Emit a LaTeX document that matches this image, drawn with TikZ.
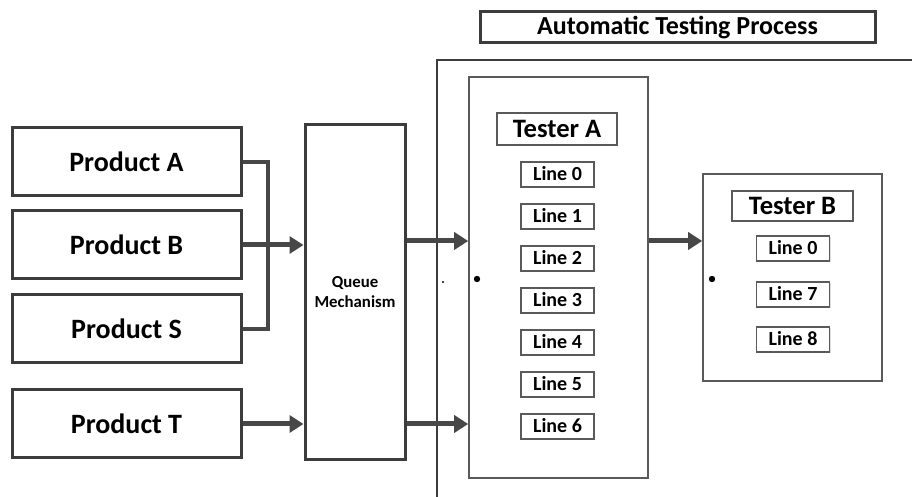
\documentclass[tikz,border=0pt]{standalone}
\usepackage{fontspec}
\setmainfont{Carlito}
\usetikzlibrary{positioning,arrows.meta,shadows}
\definecolor{edgegray}{HTML}{3C3C3C}
\definecolor{thingray}{HTML}{5A5A5A}
\definecolor{arrowgray}{HTML}{474747}

\begin{document}
\begin{tikzpicture}[x=0.5pt,y=-0.5pt]
  \tikzstyle{every node}=[align=center, rectangle, inner sep=0pt]
  \tikzstyle{prod}=[draw=edgegray, line width=1.5pt, minimum width=114.5pt, minimum height=34pt,
    drop shadow={shadow xshift=0.7pt, shadow yshift=-0.7pt, fill=black!30},
    fill=white, font=\bfseries\fontsize{14}{16}\selectfont]
  \tikzstyle{linebox}=[draw=thingray, line width=0.8pt, minimum width=36.5pt, minimum height=12.5pt,
    text height=8.4pt, text depth=2pt,
    drop shadow={shadow xshift=0.5pt, shadow yshift=-0.5pt, fill=black!25},
    fill=white, font=\bfseries\fontsize{10}{12}\selectfont]
  \tikzstyle{tester}=[draw=thingray, line width=0.8pt, fill=white]
  \tikzstyle{arr}=[draw=arrowgray, line width=2.5pt, -{Triangle[length=7pt,width=8.5pt]}]
  \useasboundingbox (0,0) rectangle (912,497);
  % \draw [step=50, blue, thin] (0,0) grid (912,497);

  % products and queue
  \node [prod] (pa) at (126.5,162) {Product A};
  \node [prod] (pb) at (126.5,245) {Product B};
  \node [prod] (ps) at (126.5,329) {Product S};
  \node [prod] (pt) at (126.5,424) {Product T};
  \node [draw=edgegray, line width=1.5pt, minimum width=50pt, minimum height=167.5pt, fill=white,
    drop shadow={shadow xshift=0.7pt, shadow yshift=-0.7pt, fill=black!30},
    font=\bfseries\fontsize{8.4}{10}\selectfont] (qm) at (355,292.5) {Queue\\Mechanism};

  % testing area
  \draw [edgegray, line width=1.3pt] (437,497) -- (437,60) -- (912,60);
  \node [draw=edgegray, line width=1.5pt, minimum width=197.5pt, minimum height=15.5pt, fill=white,
    drop shadow={shadow xshift=0.7pt, shadow yshift=-0.7pt, fill=black!30},
    font=\bfseries\fontsize{13}{15}\selectfont] (atp) at (677.5,27.5) {Automatic Testing Process};

  \node [tester, minimum width=89.5pt, minimum height=200.5pt] (ta) at (558.5,277.5) {};
  \node [linebox, minimum width=60pt, minimum height=16pt, text height=10.8pt, text depth=2.2pt,
    font=\bfseries\fontsize{13.3}{15}\selectfont] (tal) at (557,129) {Tester A};
  \node [linebox] (a0) at (557.5,174.5) {Line 0};
  \node [linebox, below = 7.7pt of a0] (a1) {Line 1};
  \node [linebox, below = 7.7pt of a1] (a2) {Line 2};
  \node [linebox, below = 7.7pt of a2] (a3) {Line 3};
  \node [linebox, below = 7.7pt of a3] (a4) {Line 4};
  \node [linebox, below = 7.7pt of a4] (a5) {Line 5};
  \node [linebox, below = 7.7pt of a5] (a6) {Line 6};

  \node [tester, minimum width=89.5pt, minimum height=103.5pt] (tb) at (792.5,277.5) {};
  \node [linebox, minimum width=60.5pt, minimum height=15pt, text height=10.8pt, text depth=2.2pt,
    font=\bfseries\fontsize{13.3}{15}\selectfont] (tbl) at (792.5,206) {Tester B};
  \node [linebox] (b0) at (793,248.5) {Line 0};
  \node [linebox, below = 9.7pt of b0] (b7) {Line 7};
  \node [linebox, below = 9.2pt of b7] (b8) {Line 8};

  \fill (443,282) circle (0.6pt);
  \fill (477,279) circle (1.6pt);
  \fill (712,279) circle (1.6pt);

  % connectors
  \draw [arrowgray, line width=2pt] (pa.east) -- (268,162) |- (ps.east);
  \draw [arr] (pb.east) -- (qm.west |- pb.east);
  \draw [arr] (pt.east) -- (qm.west |- pt.east);
  \draw [arr] (qm.east |- 0,241) -- (ta.west |- 0,241);
  \draw [arr] (qm.east |- pt.east) -- (ta.west |- pt.east);
  \draw [arr] (ta.east |- 0,241) -- (tb.west |- 0,241);
\end{tikzpicture}
\end{document}
